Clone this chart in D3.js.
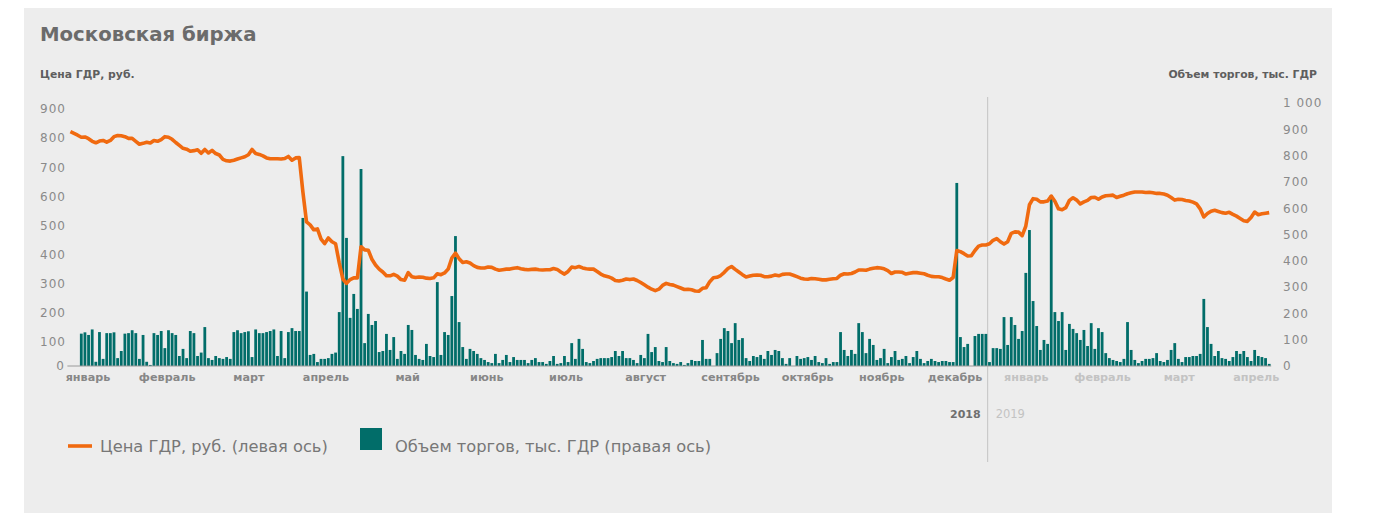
<!DOCTYPE html>
<meta charset="utf-8">
<style>
    body {
        margin: 0;
        background: #fff;
    }

    svg text {
        font-family: "DejaVu Sans", sans-serif;
    }

    .title {
        font-size: 19.7px;
        font-weight: bold;
        fill: #6b6b6b;
    }

    .axis-title {
        font-size: 10.8px;
        font-weight: bold;
        fill: #5e5e5e;
    }

    .tick-label text,
    .zero-label {
        font-size: 12px;
        fill: #8a8a8a;
        letter-spacing: 1px;
    }

    .month-axis text {
        font-size: 11.2px;
        font-weight: bold;
        fill: #878787;
    }

    .month-axis text.next-year {
        fill: #c3c3c3;
    }

    .legend-label {
        font-size: 16.3px;
        fill: #777;
    }
</style>

<body>
    <svg width="1373" height="513"></svg>
</body>

<script src="https://cdn.jsdelivr.net/npm/d3@7"></script>
<script>

    // цена ГДР, руб. — по торговым дням, янв 2018 – апр 2019
    var price = [
        822, 816, 810, 803, 804, 798, 789, 784, 790, 792, 786, 792, 805, 809, 808, 805, 799, 799, 789, 779,
        782, 786, 783, 792, 789, 795, 805, 803, 796, 785, 775, 765, 762, 755, 757, 760, 748, 761, 749, 758,
        747, 742, 727, 722, 721, 724, 728, 732, 736, 743, 761, 747, 744, 739, 732, 729, 729, 729, 728, 730,
        737, 724, 732, 733, 615, 512, 502, 485, 488, 453, 438, 457, 444, 437, 372, 316, 301, 314, 320, 320,
        427, 416, 415, 384, 364, 350, 340, 327, 327, 332, 326, 314, 312, 338, 324, 321, 323, 322, 319, 318,
        320, 334, 331, 337, 350, 388, 405, 386, 373, 375, 371, 362, 356, 354, 354, 357, 356, 350, 346, 348,
        350, 350, 353, 355, 351, 349, 348, 349, 350, 348, 347, 348, 348, 352, 349, 340, 333, 342, 357, 355,
        359, 354, 351, 350, 350, 342, 333, 327, 324, 319, 311, 309, 312, 316, 314, 316, 311, 304, 296, 288,
        281, 276, 281, 294, 301, 297, 295, 290, 285, 280, 281, 279, 275, 274, 284, 286, 307, 320, 322, 328,
        339, 352, 359, 349, 340, 331, 323, 326, 329, 330, 329, 324, 324, 326, 330, 327, 332, 333, 333, 329,
        324, 319, 316, 315, 318, 317, 315, 313, 313, 315, 317, 318, 329, 334, 333, 335, 340, 347, 347, 346,
        350, 353, 355, 354, 351, 345, 335, 340, 340, 339, 333, 336, 338, 338, 336, 334, 329, 325, 324, 324,
        321, 316, 312, 321, 414, 410, 403, 395, 396, 414, 429, 433, 433, 437, 449, 455, 444, 436, 444, 473,
        478, 477, 465, 498, 571, 592, 590, 581, 581, 584, 601, 583, 557, 554, 561, 586, 595, 587, 574, 581,
        586, 596, 597, 590, 598, 602, 603, 604, 596, 600, 604, 609, 612, 615, 615, 615, 613, 614, 612, 610,
        610, 608, 604, 596, 587, 590, 589, 586, 584, 580, 574, 557, 529, 541, 549, 552, 548, 544, 542, 545,
        538, 532, 524, 516, 514, 527, 546, 537, 540, 542, 544
    ];

    // объем торгов, тыс. ГДР
    var volume = [
        0, 0, 0,
        123, 128, 118, 139, 16, 129, 27, 125, 125, 128, 30, 57, 123, 125, 136, 125, 27, 118, 16, 4,
        125, 118, 133, 68, 136, 125, 118, 38, 65, 30, 133, 125, 38, 51, 148, 30, 23, 38, 30, 27,
        34, 27, 129, 136, 125, 129, 132, 34, 139, 125, 125, 129, 133, 139, 38, 133, 30, 129, 144, 133,
        133, 563, 283, 42,
        46, 15, 27, 27, 30, 46, 51, 205, 798, 487, 183, 274, 217, 749, 87, 198, 156, 171, 53, 57,
        122, 61, 110, 27, 57, 46, 156, 137, 42, 27, 23, 84, 38, 34, 319, 42, 129, 118, 266, 494,
        167, 72, 27, 65, 57, 46, 30, 23, 15, 11, 46, 11, 23, 42, 15, 34, 23, 23, 23, 11,
        23, 30, 15, 15, 8, 19,
        38, 8, 11, 38, 15, 87, 27, 103, 65, 15, 11, 19, 27, 30, 30, 30, 34, 57, 38, 57,
        30, 30, 23, 11, 42, 30, 122, 53, 72, 19, 15, 72, 19, 11, 8, 15, 4, 11, 23, 19,
        19, 99, 27, 27, 0, 49, 103, 144, 133, 87, 163, 99, 106, 30, 19, 38, 34, 42, 27, 57,
        42, 61, 57, 30, 8,
        30, 0, 38, 27, 30, 34, 23, 38, 15, 11, 30, 8, 15, 15, 129, 61, 38, 61, 46, 163,
        129, 49, 103, 80, 23, 30, 65, 11, 34, 57, 23, 27, 38, 11, 34, 57, 27, 11, 19, 27,
        19, 15, 19, 19, 15, 15, 696, 110, 72, 84, 0, 114, 122, 122, 122, 15, 68, 68, 65, 186,
        80, 186, 156, 103, 133, 354, 517,
        247, 152, 61, 99, 84, 650, 205, 171, 205, 61, 160, 141, 125, 99, 137, 76, 163, 65, 144, 129,
        49, 30, 23, 19, 15, 27, 167, 61, 23, 11, 19, 27, 27, 30, 49, 19, 15, 23, 61, 87,
        27, 15, 34, 34, 38, 38, 46, 255, 148, 84, 38, 57, 30, 27, 19, 34, 57, 46, 57, 34,
        19, 61, 38, 34, 30, 8
    ];

    // подписи месяцев и их положение (номер торгового дня)
    var monthNames = ["январь", "февраль", "март", "апрель", "май", "июнь", "июль", "август",
        "сентябрь", "октябрь", "ноябрь", "декабрь", "январь", "февраль", "март", "апрель"];
    var monthPos = [4.7, 26.5, 49, 70.2, 92.7, 114.5, 136.3, 158.2, 181.6, 202.8, 223.2, 243.4,
        263, 284, 305.1, 326.3];
    var firstMonth2019 = 12;
    var yearSplit = 252.5;
    var years = ["2018", "2019"];

    var priceTicks = [100, 200, 300, 400, 500, 600, 700, 800, 900];
    var volumeTicks = [0, 100, 200, 300, 400, 500, 600, 700, 800, 900, 1000];

    var svg = d3.select("svg");

    var ruLocale = d3.formatLocale({ decimal: ",", thousands: " ", grouping: [3], currency: ["", ""] });
    var fmt = ruLocale.format(",");

    var x = d3.scaleLinear().domain([0, price.length - 1]).range([70.4, 1269.2]);
    var yPrice = d3.scaleLinear().domain([0, 900]).range([371, 109]);
    var yVol = d3.scaleLinear().domain([0, 1000]).range([366, 103]);

    // фон
    svg.append("rect")
        .attr("x", 24).attr("y", 8)
        .attr("width", 1308).attr("height", 505)
        .attr("fill", "#ededed");

    svg.append("text")
        .attr("class", "title")
        .attr("x", 40).attr("y", 41)
        .text("Московская биржа");

    svg.append("text")
        .attr("class", "axis-title")
        .attr("x", 40).attr("y", 78)
        .text("Цена ГДР, руб.");

    svg.append("text")
        .attr("class", "axis-title")
        .attr("x", 1317).attr("y", 78)
        .attr("text-anchor", "end")
        .text("Объем торгов, тыс. ГДР");

    // разделитель годов
    svg.append("line")
        .attr("x1", x(yearSplit)).attr("x2", x(yearSplit))
        .attr("y1", 97).attr("y2", 462)
        .attr("stroke", "#c4c4c4")
        .attr("stroke-width", 1);

    var bw = 2.8;
    svg.append("g")
        .selectAll("rect")
        .data(volume)
        .enter().append("rect")
        .attr("x", function (d, i) { return x(i) - bw / 2; })
        .attr("y", function (d) { return yVol(d); })
        .attr("width", bw)
        .attr("height", function (d) { return yVol(0) - yVol(d); })
        .attr("fill", "#016d69");

    // базовая линия
    svg.append("line")
        .attr("x1", x(0) - 3).attr("x2", x(price.length - 1) + 2)
        .attr("y1", yVol(0)).attr("y2", yVol(0))
        .attr("stroke", "#9a9a9a")
        .attr("stroke-width", 1);

    var line = d3.line()
        .x(function (d, i) { return x(i); })
        .y(function (d) { return yPrice(d); });

    svg.append("path")
        .datum(price)
        .attr("d", line)
        .attr("fill", "none")
        .attr("stroke", "#f06a10")
        .attr("stroke-width", 3.6)
        .attr("stroke-linejoin", "round");

    // оси
    svg.append("g")
        .attr("class", "tick-label")
        .attr("transform", "translate(66,0)")
        .call(d3.axisLeft(yPrice).tickValues(priceTicks).tickSize(0).tickPadding(0))
        .call(function (g) { g.select(".domain").remove(); });

    svg.append("text")
        .attr("class", "zero-label")
        .attr("x", 65).attr("y", yVol(0))
        .attr("dy", "0.32em")
        .attr("text-anchor", "end")
        .text("0");

    svg.append("g")
        .attr("class", "tick-label")
        .attr("transform", "translate(1283,0)")
        .call(d3.axisRight(yVol).tickValues(volumeTicks).tickSize(0).tickPadding(0).tickFormat(fmt))
        .call(function (g) { g.select(".domain").remove(); });

    svg.append("g")
        .attr("class", "month-axis")
        .attr("transform", "translate(0,373)")
        .call(d3.axisBottom(x).tickValues(monthPos).tickSize(0).tickPadding(0)
            .tickFormat(function (d, i) { return monthNames[i]; }))
        .call(function (g) { g.select(".domain").remove(); })
        .selectAll("text")
        .classed("next-year", function (d, i) { return i >= firstMonth2019; });

    svg.append("text")
        .attr("x", x(yearSplit) - 7).attr("y", 418)
        .attr("text-anchor", "end")
        .attr("font-size", "11px")
        .attr("font-weight", "bold")
        .attr("fill", "#6f6f6f")
        .text(years[0]);

    svg.append("text")
        .attr("x", x(yearSplit) + 8).attr("y", 418)
        .attr("font-size", "11.5px")
        .attr("fill", "#c3c3c3")
        .text(years[1]);

    // легенда
    svg.append("line")
        .attr("x1", 68).attr("x2", 92)
        .attr("y1", 446).attr("y2", 446)
        .attr("stroke", "#f06a10")
        .attr("stroke-width", 3.6);

    svg.append("text")
        .attr("class", "legend-label")
        .attr("x", 100).attr("y", 446)
        .attr("dy", "0.35em")
        .text("Цена ГДР, руб. (левая ось)");

    svg.append("rect")
        .attr("x", 360).attr("y", 428)
        .attr("width", 22).attr("height", 22)
        .attr("fill", "#016d69");

    svg.append("text")
        .attr("class", "legend-label")
        .attr("x", 395).attr("y", 446)
        .attr("dy", "0.35em")
        .text("Объем торгов, тыс. ГДР (правая ось)");
</script>
